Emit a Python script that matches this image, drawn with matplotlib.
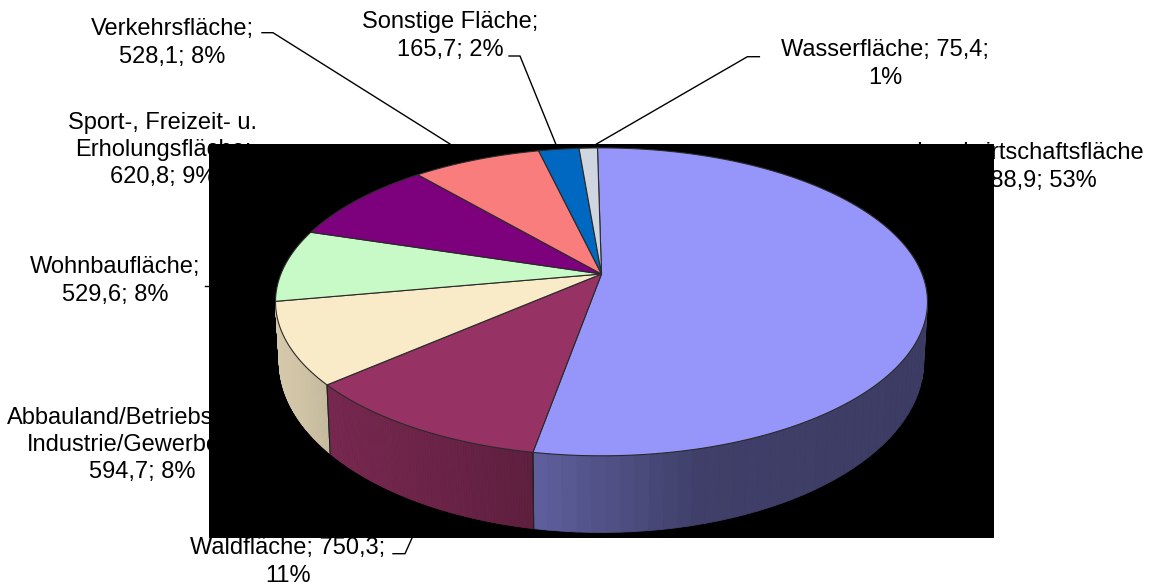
import numpy as np
import matplotlib
matplotlib.use('Agg')
import matplotlib.pyplot as plt
from matplotlib.collections import PolyCollection

plt.rcParams['font.family'] = ['Liberation Sans', 'DejaVu Sans']

# clockwise from 12 o'clock
names = ['Landwirtschaftsfläche', 'Waldfläche', 'Abbauland/Betriebsfläche', 'Wohnbaufläche',
         'Sport-, Freizeit- u. Erholungsfläche', 'Verkehrsfläche', 'Sonstige Fläche', 'Wasserfläche']
values = [3688.9, 750.3, 594.7, 529.6, 620.8, 528.1, 165.7, 75.4]
colors = ['#9696FA', '#963264', '#FAEBC8', '#C8FAC8', '#7D007D', '#FA7D7D', '#0068C0', '#D0D6E0']

label_texts = ['Landwirtschaftsfläche\n3688,9; 53%',
               'Waldfläche; 750,3;\n11%',
               'Abbauland/Betriebsfläche\nIndustrie/Gewerbeflä.;\n594,7; 8%',
               'Wohnbaufläche;\n529,6; 8%',
               'Sport-, Freizeit- u.\nErholungsfläche;\n620,8; 9%',
               'Verkehrsfläche;\n528,1; 8%',
               'Sonstige Fläche;\n165,7; 2%',
               'Wasserfläche; 75,4;\n1%']
label_x = [1030, 288, 142, 115, 163, 172, 450, 885]
label_y = [167, 562, 445, 281, 150, 43, 36, 64]

leaders = [[(393, 553.7), (405, 553.7), (412, 538)],
           [(205, 286), (212, 286)],
           [(262, 32.7), (273, 32.7), (450, 144), (470, 160)],
           [(509, 56), (520, 56), (557, 147)],
           [(759.4, 56.7), (747.4, 56.7), (596.5, 144)]]

# pie seen in perspective: circle -> ellipse, centre goes to the apex
k = 0.181
start = -0.85


def project(theta, cx, cy, a, b):
    t = np.radians(theta)
    w = 1 + k * np.cos(t)
    return cx + a * np.sin(t) / w, cy - b * np.cos(t) / w


def top(theta):
    return project(theta, 601.5, 274, 320.6, 148.9)


def bottom(theta):
    return project(theta, 601.5, 330.5, 316.9, 165.4)


def shade(x):
    return np.interp(x, [280, 330, 535, 700, 927], [0.85, 0.80, 0.63, 0.42, 0.40])


fig = plt.figure(figsize=(11.51, 5.85), dpi=100)
ax = fig.add_axes([0, 0, 1, 1])
ax.set_xlim(0, 1151)
ax.set_ylim(585, 0)
ax.axis('off')

for txt, x, y in zip(label_texts, label_x, label_y):
    ax.text(x, y, txt, ha='center', va='center', fontsize=17, color='black',
            linespacing=1.3, zorder=1)
for pts in leaders:
    xs, ys = zip(*pts)
    ax.plot(xs, ys, color='black', lw=1, zorder=1)

# black plot area hides part of the labels
ax.fill([209.5, 994, 994, 209.5], [144, 144, 537.5, 537.5], color='black', lw=0, zorder=2)

fractions = np.array(values) / sum(values)
bounds = start + 360 * np.concatenate([[0], np.cumsum(fractions)])

# side wall, front part only
for i, col in enumerate(colors):
    th = np.linspace(bounds[i], bounds[i + 1], 90)
    th = th[np.cos(np.radians(th)) < -k]
    if len(th) < 2:
        continue
    xt, yt = top(th)
    xb, yb = bottom(th)
    rgb = np.array(matplotlib.colors.to_rgb(col))
    polys = []
    cols = []
    for j in range(len(th) - 1):
        polys.append([(xt[j], yt[j]), (xt[j + 1], yt[j + 1]), (xb[j + 1], yb[j + 1]), (xb[j], yb[j])])
        cols.append(rgb * shade((xt[j] + xt[j + 1]) / 2))
    ax.add_collection(PolyCollection(polys, facecolors=cols, edgecolors=cols, linewidths=0.6, zorder=3))
    # dividing line only where two walls really meet
    for b in (bounds[i], bounds[i + 1]):
        if np.cos(np.radians(b)) < -k:
            x0, y0 = top(b)
            x1, y1 = bottom(b)
            ax.plot([x0, x1], [y0, y1], color='#222222', lw=0.8, zorder=3.5)

# top face
for i, col in enumerate(colors):
    th = np.linspace(bounds[i], bounds[i + 1], 200)
    xt, yt = top(th)
    ax.fill(np.r_[601.5, xt], np.r_[274, yt], facecolor=col, edgecolor='#2a2a2a', lw=0.8,
            joinstyle='round', zorder=4)

fig.savefig('out.png', dpi=100)
